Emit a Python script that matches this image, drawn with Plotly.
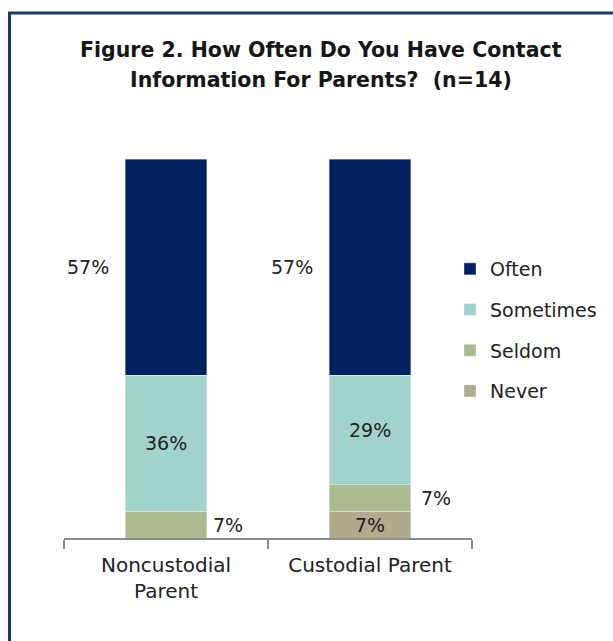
import plotly.graph_objects as go

# Survey responses (n=14), percent of respondents
categories = ["Noncustodial<br>Parent", "Custodial Parent"]
series_names = ["Never", "Seldom", "Sometimes", "Often"]
never = [0, 7]
seldom = [7, 7]
sometimes = [36, 29]
often = [57, 57]
values = [never, seldom, sometimes, often]
colors = ["#B2AA8E", "#AABA92", "#A2D2CC", "#002060"]
legend_ranks = [4, 3, 2, 1]

fig = go.Figure()
for name, vals, col, rank in zip(series_names, values, colors, legend_ranks):
    fig.add_trace(go.Bar(
        x=categories, y=vals, name=name, legendgroup=name, legendrank=rank,
        marker=dict(color=col, line=dict(color="rgba(255,255,255,0.6)", width=0.6)),
        hoverinfo="skip",
    ))

L, R, T, B = 64, 141, 159, 103
pw, ph = 613 - L - R, 641 - T - B

def px_x(p):
    return (p - L) / pw

def px_y(p):
    return (641 - B - p) / ph

# data labels: (series index, category index, horizontal shift in px)
label_pos = {
    (3, 0): -78, (3, 1): -78,
    (2, 0): 0, (2, 1): 0,
    (1, 0): 62, (1, 1): 66,
    (0, 1): 0,
}
annotations = []
for (si, ci), dx in label_pos.items():
    v = values[si][ci]
    base = sum(values[k][ci] for k in range(si))
    annotations.append(dict(
        x=categories[ci], y=base + v / 2, xref="x", yref="y",
        text=f"{v}%", showarrow=False, xshift=dx,
        font=dict(family="DejaVu Sans", size=19, color="#222222"),
    ))

title_lines = ["Figure 2. How Often Do You Have Contact",
               "Information For Parents?  (n=14)"]
for line, ypx in zip(title_lines, [50, 80]):
    annotations.append(dict(
        x=px_x(321), y=px_y(ypx), xref="paper", yref="paper",
        text=f"<b>{line}</b>", showarrow=False,
        xanchor="center", yanchor="middle",
        font=dict(family="DejaVu Sans", size=20.5, color="#161616"),
    ))

fig.update_layout(
    width=613, height=641,
    margin=dict(l=L, r=R, t=T, b=B, autoexpand=False),
    paper_bgcolor="white", plot_bgcolor="white",
    barmode="stack", bargap=0.6,
    showlegend=True,
    legend=dict(
        x=px_x(450), y=px_y(250), xanchor="left", yanchor="top",
        traceorder="grouped", tracegroupgap=13,
        font=dict(family="DejaVu Sans", size=19, color="#222222"),
        bgcolor="rgba(0,0,0,0)",
    ),
    xaxis=dict(
        showline=True, linecolor="#8c8c8c", linewidth=1.5,
        ticks="outside", tickson="boundaries", ticklen=9, tickcolor="#8c8c8c",
        tickwidth=1.5, ticklabelstandoff=8,
        tickfont=dict(family="DejaVu Sans", size=20, color="#222222"),
        showgrid=False,
    ),
    yaxis=dict(range=[0, 100], visible=False, showgrid=False),
    annotations=annotations,
    shapes=[dict(
        type="rect", xref="paper", yref="paper",
        x0=px_x(9.5), x1=px_x(625), y0=px_y(655), y1=px_y(13),
        line=dict(color="#1C3A6E", width=3), fillcolor="rgba(0,0,0,0)",
        layer="below",
    )],
)

fig.write_html("out.html")
